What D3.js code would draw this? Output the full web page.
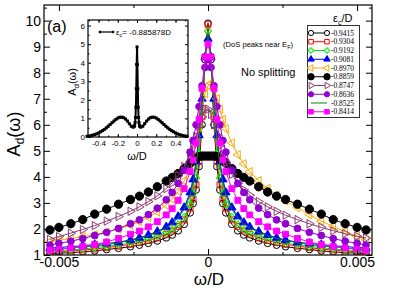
<!DOCTYPE html>
<html lang="en">
<head>
<meta charset="UTF-8"/>
<title>A_d(omega) near the Fermi level</title>
<script src="https://d3js.org/d3.v7.min.js"></script>
<style>
  body { margin: 0; background: #fff; }
  svg { display: block; font-family: "Liberation Sans", Arial, sans-serif; }
</style>
</head>
<body>
<svg id="chart" width="407" height="288"></svg>
<script>
// |omega|/D grid, values for each series are read at these points (right half, left half)
const omega = [0, 0.0001, 0.0002, 0.0003, 0.0004, 0.0005, 0.0006, 0.0008, 0.001, 0.0012, 0.0014,
  0.0017, 0.002, 0.0023, 0.0026, 0.003, 0.0034, 0.0038, 0.0042, 0.0046, 0.005, 0.0053];

const epsLabels = ['-0.9415', '-0.9304', '-0.9192', '-0.9081', '-0.8970', '-0.8859', '-0.8747', '-0.8636', '-0.8525', '-0.8414'];

const a9415 = [9.9, 8.5, 6.0, 4.4, 3.5, 2.98, 2.62, 2.18, 1.93, 1.77, 1.66, 1.54, 1.45, 1.38, 1.32, 1.26, 1.21, 1.16, 1.12, 1.09, 1.07, 1.05];
const a9304 = [9.85, 8.6, 6.3, 4.6, 3.7, 3.15, 2.8, 2.35, 2.1, 1.92, 1.8, 1.66, 1.56, 1.47, 1.41, 1.34, 1.28, 1.23, 1.19, 1.16, 1.13, 1.1];
const a9192 = [9.6, 8.6, 6.5, 4.9, 3.95, 3.35, 2.95, 2.45, 2.17, 1.98, 1.86, 1.72, 1.62, 1.53, 1.46, 1.39, 1.33, 1.28, 1.23, 1.19, 1.16, 1.14];
const a9081 = [9.3, 8.6, 7.0, 5.6, 4.6, 3.9, 3.4, 2.82, 2.48, 2.25, 2.08, 1.9, 1.77, 1.66, 1.58, 1.49, 1.44, 1.4, 1.36, 1.32, 1.29, 1.27];
const a8970R = [7.5, 7.6, 7.4, 7.0, 6.6, 6.2, 5.85, 5.3, 4.85, 4.5, 4.2, 3.85, 3.55, 3.3, 3.08, 2.82, 2.55, 2.3, 2.1, 1.9, 1.72, 1.58];
const a8970L = [7.5, 7.2, 6.6, 5.9, 5.3, 4.8, 4.4, 3.85, 3.45, 3.15, 2.92, 2.65, 2.45, 2.28, 2.15, 2.0, 1.88, 1.78, 1.7, 1.63, 1.57, 1.52];
const a8859 = [4.8, 4.8, 4.8, 4.78, 4.72, 4.62, 4.52, 4.32, 4.13, 3.98, 3.84, 3.62, 3.42, 3.26, 3.13, 2.95, 2.76, 2.57, 2.36, 2.2, 2.06, 1.96];
const a8747R = [6.6, 6.4, 6.0, 5.6, 5.2, 4.85, 4.55, 4.1, 3.75, 3.5, 3.3, 3.05, 2.85, 2.68, 2.53, 2.36, 2.2, 2.06, 1.93, 1.82, 1.72, 1.65];
const a8747L = [6.6, 6.6, 6.3, 5.95, 5.55, 5.2, 4.9, 4.4, 4.05, 3.77, 3.55, 3.27, 3.05, 2.85, 2.68, 2.48, 2.3, 2.13, 1.98, 1.84, 1.71, 1.6];
const a8636 = [8.5, 8.2, 7.5, 6.7, 6.0, 5.4, 4.95, 4.25, 3.75, 3.4, 3.12, 2.8, 2.55, 2.35, 2.2, 2.02, 1.87, 1.75, 1.63, 1.53, 1.45, 1.38];
const a8525 = [9.5, 8.7, 6.9, 5.4, 4.4, 3.75, 3.3, 2.75, 2.42, 2.2, 2.04, 1.87, 1.74, 1.64, 1.56, 1.47, 1.4, 1.35, 1.31, 1.27, 1.24, 1.22];
const a8414 = [9.1, 8.6, 7.4, 6.2, 5.3, 4.65, 4.2, 3.55, 3.1, 2.78, 2.54, 2.28, 2.08, 1.92, 1.8, 1.64, 1.5, 1.4, 1.33, 1.27, 1.22, 1.18];

// inset: eps_c = -0.885878D over the whole band (symmetric)
const insetW = [0, 0.004, 0.008, 0.012, 0.016, 0.02, 0.025, 0.03, 0.04, 0.06, 0.08, 0.1, 0.12, 0.14, 0.16, 0.18,
  0.2, 0.22, 0.24, 0.26, 0.28, 0.3, 0.32, 0.34, 0.36, 0.38, 0.4, 0.42, 0.44, 0.46, 0.48, 0.5, 0.52];
const insetA = [4.85, 3.9, 2.6, 1.6, 1.05, 0.78, 0.62, 0.56, 0.53, 0.58, 0.72, 0.86, 0.97, 1.04, 1.07, 1.06,
  1.02, 0.95, 0.86, 0.77, 0.67, 0.58, 0.49, 0.41, 0.34, 0.28, 0.22, 0.17, 0.13, 0.1, 0.07, 0.05, 0.04];

const mainYTicks = [1, 2, 3, 4, 5, 6, 7, 8, 9, 10];
const mainXTicks = [-0.005, 0, 0.005];
const insetXTicks = [-0.4, -0.2, 0, 0.2, 0.4];
const insetYTicks = [0, 1, 2, 3, 4, 5, 6];

const series = [
  { right: a9415, left: a9415, color: '#000000', shape: 'circle', filled: false },
  { right: a9304, left: a9304, color: '#ff0000', shape: 'square', filled: false },
  { right: a9192, left: a9192, color: '#00ee00', shape: 'diamond', filled: false },
  { right: a9081, left: a9081, color: '#0000ff', shape: 'triUp', filled: true },
  { right: a8970R, left: a8970L, color: '#ffa500', shape: 'triLeft', filled: false },
  { right: a8859, left: a8859, color: '#000000', shape: 'circle', filled: true, big: true },
  { right: a8747R, left: a8747L, color: '#8b3a72', shape: 'triRight', filled: false },
  { right: a8636, left: a8636, color: '#9400d3', shape: 'circle', filled: true },
  { right: a8525, left: a8525, color: '#008b00', shape: 'none', filled: false },
  { right: a8414, left: a8414, color: '#ff00ff', shape: 'square', filled: true }
];
series.forEach((s, i) => s.label = epsLabels[i]);

const svg = d3.select('#chart');
const M = { left: 44, right: 372, top: 5, bottom: 255 };
const x = d3.scaleLinear().domain([-0.0055, 0.0055]).range([M.left, M.right]);
const y = d3.scaleLinear().domain([1, 10.6]).range([M.bottom, M.top]);

function toPoints(s) {
  const pts = [];
  for (let i = omega.length - 1; i > 0; i--) pts.push([-omega[i], s.left[i]]);
  for (let i = 0; i < omega.length; i++) pts.push([omega[i], s.right[i]]);
  return pts;
}

function symbolPath(shape, big, k) {
  k = k || 1;
  if (shape === 'circle') return d3.symbol(d3.symbolCircle, (big ? 54 : 36) * k)();
  if (shape === 'square') return d3.symbol(d3.symbolSquare, 34 * k)();
  if (shape === 'diamond') return d3.symbol(d3.symbolSquare, 26 * k)();
  return d3.symbol(d3.symbolTriangle, 30 * k)();
}
function symbolRot(shape) {
  return { diamond: 45, triLeft: -90, triRight: 90 }[shape] || 0;
}

function drawMarkers(g, pts, s, sx, sy) {
  if (s.shape === 'none') return;
  g.selectAll(null).data(pts).join('path')
    .attr('d', symbolPath(s.shape, s.big))
    .attr('transform', d => `translate(${sx(d[0])},${sy(d[1])}) rotate(${symbolRot(s.shape)})`)
    .attr('fill', s.filled ? s.color : 'none')
    .attr('stroke', s.color)
    .attr('stroke-width', 1);
}

// clip
svg.append('defs').append('clipPath').attr('id', 'plotClip')
  .append('rect').attr('x', M.left).attr('y', M.top)
  .attr('width', M.right - M.left).attr('height', M.bottom - M.top);

const plot = svg.append('g').attr('clip-path', 'url(#plotClip)');
const line = d3.line().x(d => x(d[0])).y(d => y(d[1]));

series.forEach(s => {
  const pts = toPoints(s);
  const g = plot.append('g');
  g.append('path').datum(pts).attr('d', line)
    .attr('fill', 'none').attr('stroke', s.color).attr('stroke-width', 1);
  drawMarkers(g, pts, s, x, y);
});

// axes with inward ticks on all four sides
function mirrorAxes(sx, sy, minorX, minorY, box, sizes, fontSize, xVals, yVals) {
  const g = svg.append('g');
  const axB = g.append('g').attr('transform', `translate(0,${box.bottom})`)
    .call(d3.axisBottom(sx).tickValues(xVals).tickSize(-sizes[0]).tickSizeOuter(0).tickPadding(3).tickFormat(d => String(d)));
  g.append('g').attr('transform', `translate(0,${box.bottom})`)
    .call(d3.axisBottom(sx).tickValues(minorX).tickSize(-sizes[1]).tickSizeOuter(0).tickFormat(''));
  g.append('g').attr('transform', `translate(0,${box.top})`)
    .call(d3.axisTop(sx).tickValues(xVals).tickSize(-sizes[0]).tickSizeOuter(0).tickFormat(''));
  g.append('g').attr('transform', `translate(0,${box.top})`)
    .call(d3.axisTop(sx).tickValues(minorX).tickSize(-sizes[1]).tickSizeOuter(0).tickFormat(''));
  const axL = g.append('g').attr('transform', `translate(${box.left},0)`)
    .call(d3.axisLeft(sy).tickValues(yVals).tickSize(-sizes[0]).tickSizeOuter(0).tickPadding(3).tickFormat(d => String(d)));
  g.append('g').attr('transform', `translate(${box.left},0)`)
    .call(d3.axisLeft(sy).tickValues(minorY).tickSize(-sizes[1]).tickSizeOuter(0).tickFormat(''));
  g.append('g').attr('transform', `translate(${box.right},0)`)
    .call(d3.axisRight(sy).tickValues(yVals).tickSize(-sizes[0]).tickSizeOuter(0).tickFormat(''));
  g.append('g').attr('transform', `translate(${box.right},0)`)
    .call(d3.axisRight(sy).tickValues(minorY).tickSize(-sizes[1]).tickSizeOuter(0).tickFormat(''));
  g.selectAll('.domain').remove();
  g.selectAll('.tick line').attr('stroke', '#000');
  g.selectAll('text').attr('font-family', '"Liberation Sans", Arial, sans-serif')
    .attr('font-size', fontSize).attr('fill', '#000');
  g.append('rect').attr('x', box.left).attr('y', box.top)
    .attr('width', box.right - box.left).attr('height', box.bottom - box.top)
    .attr('fill', 'none').attr('stroke', '#000').attr('stroke-width', 1.2);
  return { axB, axL };
}

const mainAx = mirrorAxes(x, y, [-0.0025, 0.0025], d3.range(1.5, 10.6, 1), M, [6, 3], 14, mainXTicks, mainYTicks);
mainAx.axB.selectAll('text').attr('dy', '0.71em').attr('y', 2);
mainAx.axL.selectAll('text').attr('x', -3);

// axis titles
svg.append('text').attr('x', 209).attr('y', 285).attr('text-anchor', 'middle')
  .attr('font-size', 17).text('ω/D');
const yl = svg.append('text').attr('transform', 'translate(20,134) rotate(-90)')
  .attr('text-anchor', 'middle').attr('font-size', 18);
yl.append('tspan').text('A');
yl.append('tspan').attr('font-size', 12).attr('dy', 4).text('d');
yl.append('tspan').attr('dy', -4).text('(ω)');

// annotations
svg.append('text').attr('x', 47).attr('y', 32).attr('font-size', 16).text('(a)');
const dos = svg.append('text').attr('x', 223).attr('y', 47).attr('font-size', 7.6);
dos.append('tspan').text('(DoS peaks near E');
dos.append('tspan').attr('font-size', 5.5).attr('dy', 2).text('F');
dos.append('tspan').attr('dy', -2).text(')');
svg.append('text').attr('x', 241).attr('y', 76).attr('font-size', 11).text('No splitting');

// legend
const lg = svg.append('g');
lg.append('rect').attr('x', 307.5).attr('y', 25.5).attr('width', 52).attr('height', 92)
  .attr('fill', '#fff').attr('stroke', '#333').attr('stroke-width', 1);
const lt = lg.append('text').attr('x', 333).attr('y', 22).attr('font-size', 11);
lt.append('tspan').text('ε');
lt.append('tspan').attr('font-size', 7).attr('dy', 3).text('c');
lt.append('tspan').attr('dy', -3).text('/D');
series.forEach((s, i) => {
  const ry = 33 + i * 8.75;
  const row = lg.append('g');
  row.append('line').attr('x1', 311).attr('x2', 327).attr('y1', ry).attr('y2', ry)
    .attr('stroke', s.color).attr('stroke-width', 1);
  if (s.shape !== 'none') {
    [311, 327].forEach(px => {
      row.append('path').attr('d', symbolPath(s.shape, s.big, 0.6))
        .attr('transform', `translate(${px},${ry}) rotate(${symbolRot(s.shape)})`)
        .attr('fill', s.filled ? s.color : '#fff').attr('stroke', s.color).attr('stroke-width', 1);
    });
  }
  row.append('text').attr('x', 331).attr('y', ry + 2.5)
    .attr('font-family', '"Liberation Serif", "Times New Roman", serif').attr('font-size', 7.5)
    .text(s.label);
});

// inset
const IB = { left: 88, right: 188, top: 20, bottom: 137 };
const ix = d3.scaleLinear().domain([-0.51, 0.53]).range([IB.left, IB.right]);
const iy = d3.scaleLinear().domain([0, 6.3]).range([IB.bottom, IB.top]);
svg.append('rect').attr('x', IB.left).attr('y', IB.top)
  .attr('width', IB.right - IB.left).attr('height', IB.bottom - IB.top).attr('fill', '#fff');

const insetPts = [];
for (let i = insetW.length - 1; i > 0; i--) insetPts.push([-insetW[i], insetA[i]]);
for (let i = 0; i < insetW.length; i++) insetPts.push([insetW[i], insetA[i]]);
const ig = svg.append('g');
ig.append('path').datum(insetPts)
  .attr('d', d3.line().x(d => ix(d[0])).y(d => iy(d[1])))
  .attr('fill', 'none').attr('stroke', '#000').attr('stroke-width', 2);
ig.selectAll(null).data(insetPts).join('rect')
  .attr('x', d => ix(d[0]) - 1.5).attr('y', d => iy(d[1]) - 1.5)
  .attr('width', 3).attr('height', 3).attr('fill', '#000');

const insetAx = mirrorAxes(ix, iy, d3.range(-0.5, 0.51, 0.1).map(v => +v.toFixed(1)),
  d3.range(0.5, 6.3, 1), IB, [3, 1.5], 8, insetXTicks, insetYTicks);
insetAx.axB.selectAll('text').attr('y', 3);
insetAx.axL.selectAll('text').attr('x', -3);

svg.append('text').attr('x', 137).attr('y', 160).attr('text-anchor', 'middle')
  .attr('font-size', 11).text('ω/D');
const iyl = svg.append('text').attr('transform', 'translate(76,82) rotate(-90)')
  .attr('text-anchor', 'middle').attr('font-size', 11);
iyl.append('tspan').text('A');
iyl.append('tspan').attr('font-size', 8).attr('dy', 3).text('d');
iyl.append('tspan').attr('dy', -3).text('(ω)');

// inset legend
svg.append('line').attr('x1', 100).attr('x2', 113).attr('y1', 32).attr('y2', 32)
  .attr('stroke', '#000').attr('stroke-width', 1.2);
[100, 113].forEach(px => svg.append('rect').attr('x', px - 1.2).attr('y', 30.8)
  .attr('width', 2.4).attr('height', 2.4).attr('fill', '#000'));
const il = svg.append('text').attr('x', 116).attr('y', 35).attr('font-size', 8);
il.append('tspan').text('ε');
il.append('tspan').attr('font-size', 5.5).attr('dy', 2).text('c');
il.append('tspan').attr('dy', -2).text('= -0.885878D');
</script>
</body>
</html>
